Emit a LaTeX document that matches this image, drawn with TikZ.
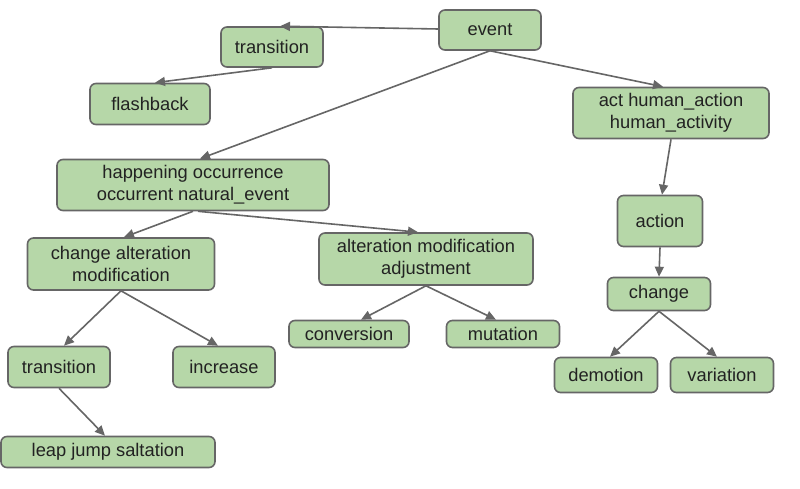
\documentclass[tikz,border=0pt]{standalone}
\usepackage{fontspec}
\setmainfont{Liberation Sans}
\usetikzlibrary{arrows.meta}
\definecolor{boxfill}{HTML}{B6D7A8}
\definecolor{boxline}{HTML}{666666}
\definecolor{txt}{HTML}{222222}
\tikzset{
  wbox/.style={draw=boxline, fill=boxfill, rounded corners=6pt, line width=1.6pt,
    align=center, inner sep=0pt, text=txt,
    font=\fontsize{18.3}{22}\selectfont},
  conn/.style={draw=boxline, line width=1.6pt, -{Triangle[length=10pt,width=9pt]}}
}
\begin{document}
\begin{tikzpicture}[x=1pt,y=-1pt]
\useasboundingbox (0,0) rectangle (800,489);
\fill[white] (0,0) rectangle (800,489);
\node[wbox, minimum width=102pt, minimum height=40pt] (event) at (490,30) {event};
\node[wbox, minimum width=102pt, minimum height=40pt] (trans1) at (272,47) {transition};
\node[wbox, minimum width=120pt, minimum height=41pt] (flash) at (150,104) {flashback};
\node[wbox, minimum width=196pt, minimum height=51pt] (act) at (671,113) {act human\_action\\human\_activity};
\node[wbox, minimum width=272pt, minimum height=51pt] (hap) at (193,185) {happening occurrence\\occurrent natural\_event};
\node[wbox, minimum width=85pt, minimum height=51pt] (action) at (660,221) {action};
\node[wbox, minimum width=187pt, minimum height=52pt] (chalt) at (121,264) {change alteration\\modification};
\node[wbox, minimum width=214pt, minimum height=52pt] (altmod) at (426,259) {alteration modification\\adjustment};
\node[wbox, minimum width=103pt, minimum height=33pt] (change) at (659,294) {change};
\node[wbox, minimum width=120pt, minimum height=27pt] (conv) at (349,334) {conversion};
\node[wbox, minimum width=113pt, minimum height=27pt] (mut) at (503,334) {mutation};
\node[wbox, minimum width=102pt, minimum height=41pt] (trans2) at (59,367) {transition};
\node[wbox, minimum width=102pt, minimum height=41pt] (incr) at (224,367) {increase};
\node[wbox, minimum width=103pt, minimum height=35pt] (demo) at (606,375) {demotion};
\node[wbox, minimum width=103pt, minimum height=35pt] (vari) at (722,375) {variation};
\node[wbox, minimum width=214pt, minimum height=31pt] (leap) at (108,452) {leap jump saltation};

\draw[conn] ([yshift=1pt]event.west) -- ([xshift=8pt]trans1.north);
\draw[conn] (trans1.south) -- ([xshift=5pt]flash.north);
\draw[conn] (event.south) -- ([xshift=7pt]hap.north);
\draw[conn] (event.south) -- ([xshift=-8pt]act.north);
\draw[conn] (act.south) -- ([xshift=2pt]action.north);
\draw[conn] (action.south) -- (change.north);
\draw[conn] (change.south) -- ([xshift=4pt]demo.north);
\draw[conn] (change.south) -- ([xshift=-5pt]vari.north);
\draw[conn] (hap.south) -- ([xshift=3pt]chalt.north);
\draw[conn] ([xshift=5pt]hap.south) -- ([xshift=-8pt]altmod.north);
\draw[conn] (chalt.south) -- ([xshift=5pt]trans2.north);
\draw[conn] (chalt.south) -- ([xshift=-6pt]incr.north);
\draw[conn] (altmod.south) -- ([xshift=12pt]conv.north);
\draw[conn] (altmod.south) -- ([xshift=-7pt]mut.north);
\draw[conn] (trans2.south) -- ([xshift=-3pt]leap.north);
\end{tikzpicture}
\end{document}
